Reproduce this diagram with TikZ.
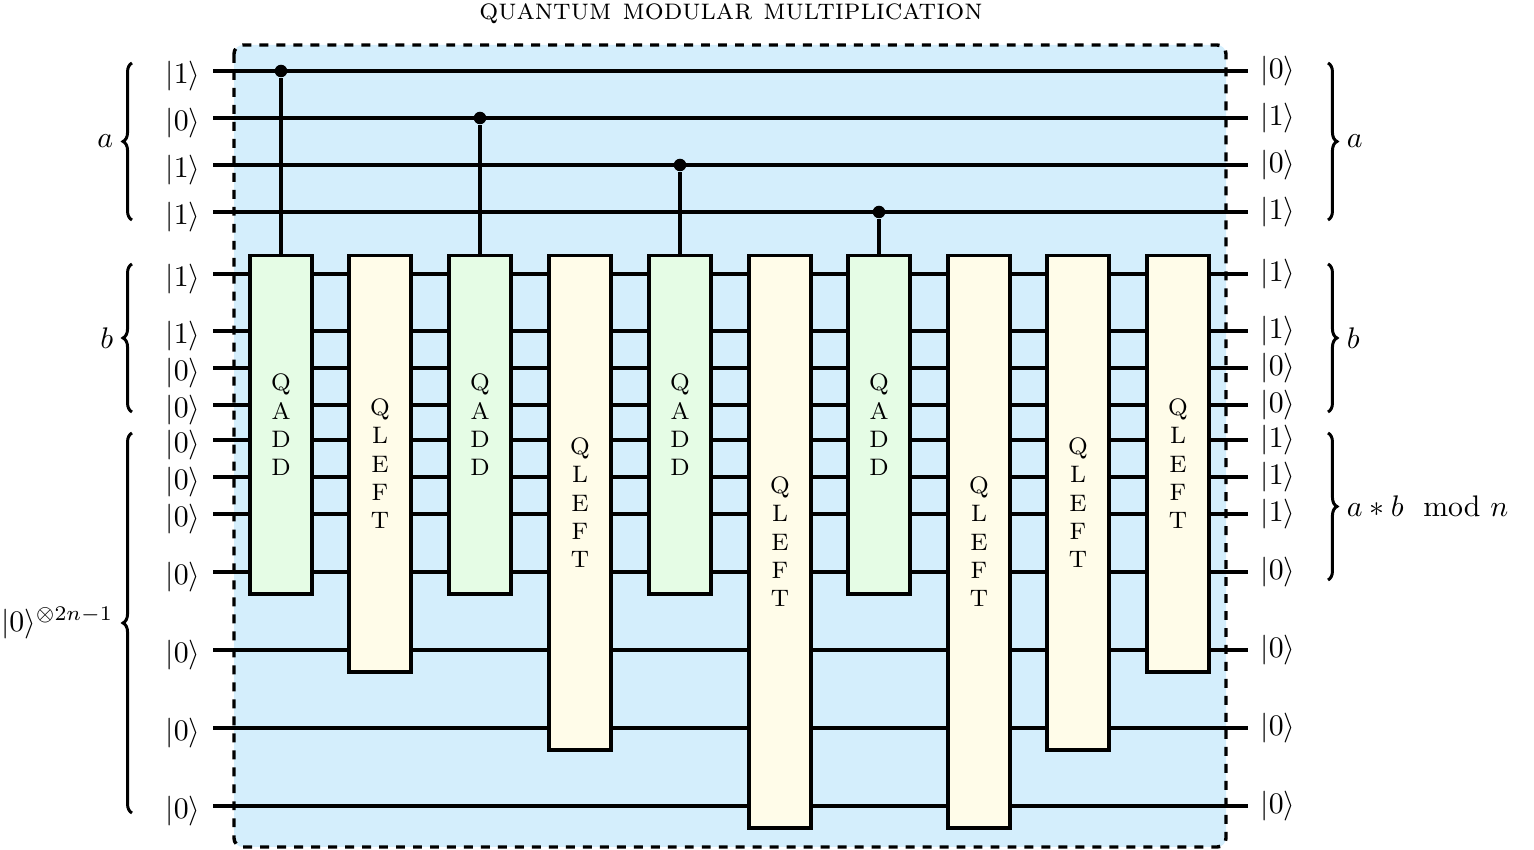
\documentclass[tikz,border=0pt]{standalone}
\usepackage{amsmath}
\usepackage{tikz}
\usetikzlibrary{decorations.pathreplacing}

\definecolor{circbg}{RGB}{212,238,252}
\definecolor{addfill}{RGB}{229,252,229}
\definecolor{leftfill}{RGB}{255,252,233}

\begin{document}
\begin{tikzpicture}[x=0.0118cm,y=-0.0118cm,
	wire/.style={line width=1.15pt},
	ket/.style={inner xsep=4pt,inner ysep=0pt},
	gate/.style={draw,line width=1.15pt,anchor=north,minimum width=0.732cm,font=\footnotesize,align=center},
	ctrl/.style={circle,fill,inner sep=0pt,minimum size=4.2pt},
	brace/.style={decorate,decoration={brace,amplitude=3pt},line width=1pt}]
\useasboundingbox (0,0) rectangle (1534,850);
\draw[line width=1.15pt,dash pattern=on 3pt off 2.7pt,rounded corners=3pt,fill=circbg] (234,45) rectangle (1226,847);
\node (title) at (731,14) {\textsc{quantum modular multiplication}};

\foreach \y/\kin/\kout [count=\i] in {71/1/0,118/0/1,165/1/0,212/1/1,274/1/1,331/1/1,368/0/0,405/0/0,440/0/1,477/0/1,514/0/1,572/0/0,650/0/0,728/0/0,806/0/0}
{
	\coordinate (l\i) at (213,\y);
	\coordinate (r\i) at (1248,\y);
	\draw[wire] (l\i) -- (r\i);
	\node[ket,anchor=east,yshift=-1.7pt] (in\i) at (l\i) {$|\kin\rangle$};
	\node[ket,anchor=west] (out\i) at (r\i) {$|\kout\rangle$};
}

\foreach \x/\txt/\col/\h [count=\k] in {281/{Q\\A\\D\\D}/addfill/3.988,380/{Q\\L\\E\\F\\T}/leftfill/4.909,
	480/{Q\\A\\D\\D}/addfill/3.988,580/{Q\\L\\E\\F\\T}/leftfill/5.829,
	680/{Q\\A\\D\\D}/addfill/3.988,780/{Q\\L\\E\\F\\T}/leftfill/6.75,
	879/{Q\\A\\D\\D}/addfill/3.988,979/{Q\\L\\E\\F\\T}/leftfill/6.75,
	1078/{Q\\L\\E\\F\\T}/leftfill/5.829,1178/{Q\\L\\E\\F\\T}/leftfill/4.909}
	\node[gate,fill=\col,minimum height=\h cm] (g\k) at (\x,254) {\txt};

\foreach \k/\w in {1/1,3/2,5/3,7/4}
{
	\node[ctrl] (c\k) at (l\w -| g\k) {};
	\draw[wire] (c\k) -- (g\k.north);
}

\draw[brace] (132,220) -- (132,63) node[midway,left=2.5pt] {$a$};
\draw[brace] (132,412) -- (132,264) node[midway,left=2.5pt] {$b$};
\draw[brace] (132,813) -- (132,433) node[midway,left=2.5pt] {$|0\rangle^{\otimes 2n-1}$};
\draw[brace] (1328,63) -- (1328,220) node[midway,right=2.5pt] {$a$};
\draw[brace] (1328,264) -- (1328,412) node[midway,right=2.5pt] {$b$};
\draw[brace] (1328,433) -- (1328,580) node[midway,right=2.5pt] {$a*b \mod n$};
\end{tikzpicture}
\end{document}
